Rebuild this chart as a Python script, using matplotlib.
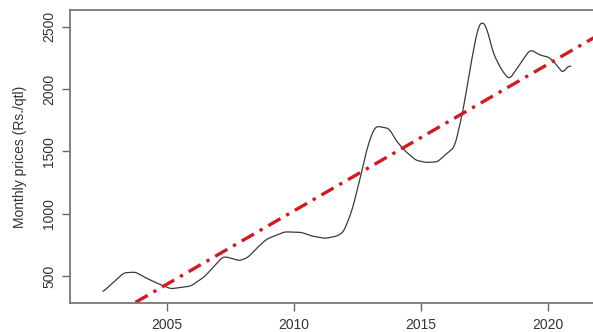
import numpy as np
import matplotlib
matplotlib.use("Agg")
import matplotlib.pyplot as plt

# monthly price series (Rs./qtl), smoothed
years = [2002.49, 2003.31, 2003.77, 2004.17, 2004.63, 2005.16, 2005.95, 2006.48,
         2007.21, 2007.41, 2007.87, 2008.20, 2008.60, 2008.93, 2009.64, 2010.32,
         2010.71, 2011.24, 2011.71, 2011.97, 2012.30, 2012.63, 2012.90, 2013.16,
         2013.29, 2013.76, 2014.02, 2014.35, 2014.81, 2015.21, 2015.67, 2015.87,
         2016.34, 2016.67, 2017.00, 2017.26, 2017.42, 2017.59, 2017.86, 2018.19,
         2018.49, 2018.92, 2019.31, 2019.71, 2020.04, 2020.31, 2020.61, 2020.77,
         2020.90]
prices = [374, 526, 532, 486, 442, 398, 420, 494,
          655, 650, 623, 650, 735, 796, 855, 850,
          821, 802, 821, 855, 1029, 1296, 1536, 1683,
          1702, 1683, 1590, 1510, 1429, 1411, 1416, 1456,
          1536, 1830, 2231, 2498, 2545, 2498, 2284, 2151,
          2076, 2204, 2317, 2271, 2257, 2204, 2124, 2183,
          2183]

# linear trend: value at 2015 and slope per year
trend_at_2015 = 1610
trend_slope = 117.6

xticks = [2005, 2010, 2015, 2020]
yticks = [500, 1000, 1500, 2000, 2500]

plt.rcParams['font.family'] = ['Liberation Sans', 'DejaVu Sans']

fig = plt.figure(figsize=(5.93, 3.32), dpi=100)
ax = fig.add_axes([70 / 593, 29 / 332, 530 / 593, 293 / 332])

# light smoothing of the points for drawing
xs = np.linspace(years[0], years[-1], 400)
ys = np.interp(xs, years, prices)
k = 2
ys_s = np.convolve(np.pad(ys, k, mode='edge'), np.ones(2 * k + 1) / (2 * k + 1), mode='same')[k:-k]
ax.plot(xs, ys_s, color='#3a3a3a', lw=0.9)

tx = np.array([2001.0, 2023.0])
ax.plot(tx, trend_at_2015 + trend_slope * (tx - 2015), color='#d41a1f', lw=2.4,
        dashes=(4.2, 2.0, 1.0, 2.0), solid_capstyle='butt', dash_capstyle='butt')

ax.set_xlim(2001.19, 2022.06)
ax.set_ylim(284, 2634)

ax.set_xticks(xticks)
ax.set_yticks(yticks)
ax.tick_params(axis='both', direction='out', length=6, width=1.0, color='#666666',
               labelcolor='#333333', labelsize=10)
ax.tick_params(axis='x', pad=5)
ax.tick_params(axis='y', pad=4)
for lab in ax.get_yticklabels():
    lab.set_rotation(90)
    lab.set_va('center')

for s in ax.spines.values():
    s.set_color('#777777')
    s.set_linewidth(1.3)

ax.set_ylabel('Monthly prices (Rs./qtl)', fontsize=10, color='#333333', labelpad=11)

fig.savefig('out.png', dpi=100)
